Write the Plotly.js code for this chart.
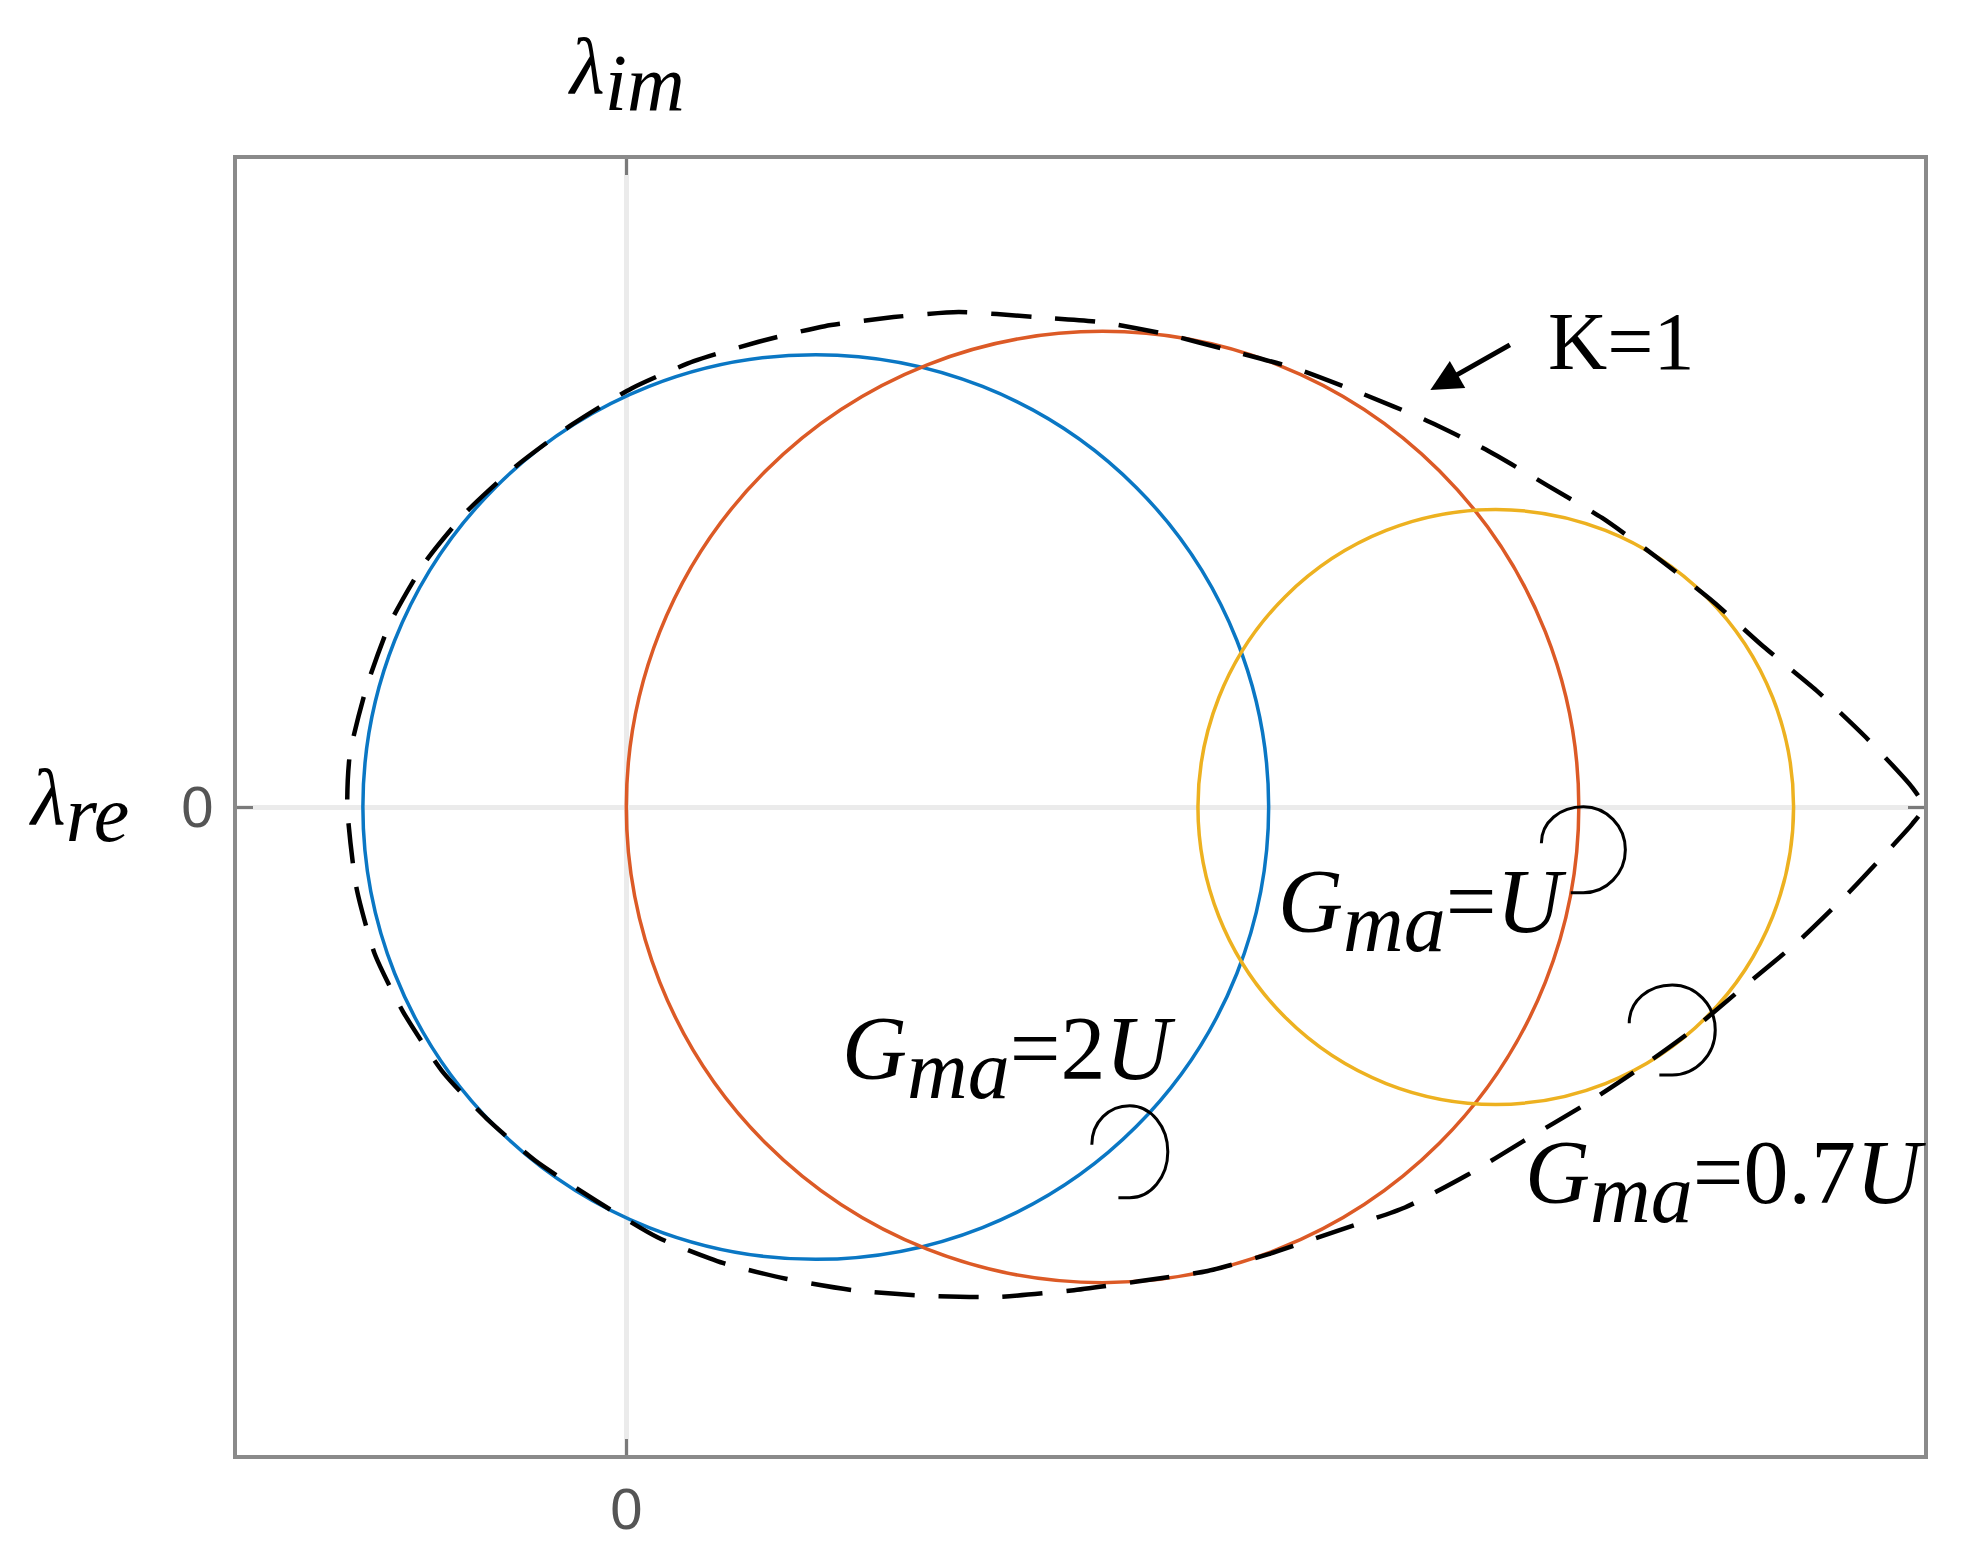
<!DOCTYPE html>
<html>
<head>
<meta charset="utf-8">
<script src="https://cdn.plot.ly/plotly-3.0.1.min.js"></script>
<style>html,body{margin:0;padding:0;background:#fff;}</style>
</head>
<body>
<div id="chart" style="width:1971px;height:1553px;"></div>
<script>
// ---- data ----
// K=1 boundary (dashed), traced from the tip along the upper half to the left, then the lower half back
const boundaryRe = [1.0, 0.991, 0.955, 0.917, 0.876, 0.838, 0.795, 0.752, 0.710, 0.662, 0.615, 0.567, 0.517, 0.466, 0.415, 0.367, 0.315, 0.256, 0.206, 0.153, 0.102, 0.052, 0.004, -0.042, -0.085, -0.123, -0.155, -0.182, -0.200, -0.213, -0.215,
  -0.208, -0.194, -0.172, -0.141, -0.108, -0.070, -0.023, 0.024, 0.075, 0.123, 0.176, 0.228, 0.286, 0.343, 0.395, 0.448, 0.495, 0.548, 0.600, 0.648, 0.691, 0.738, 0.776, 0.819, 0.862, 0.905, 0.943, 0.972, 0.991, 1.0];
const boundaryIm = [0, 0.015, 0.054, 0.090, 0.124, 0.158, 0.192, 0.223, 0.248, 0.276, 0.299, 0.319, 0.338, 0.352, 0.365, 0.374, 0.378, 0.382, 0.378, 0.371, 0.359, 0.344, 0.323, 0.295, 0.263, 0.228, 0.189, 0.142, 0.093, 0.041, 0.0,
  -0.062, -0.113, -0.158, -0.205, -0.240, -0.273, -0.304, -0.332, -0.352, -0.364, -0.373, -0.377, -0.378, -0.373, -0.366, -0.358, -0.345, -0.327, -0.309, -0.284, -0.258, -0.230, -0.205, -0.174, -0.138, -0.102, -0.065, -0.034, -0.013, 0];

// Eigenvalue circles for each G_ma
const circleNames = ['G_ma=2U', 'G_ma=U', 'G_ma=0.7U'];
const circleCenterRe = [0.146, 0.367, 0.670];
const circleCenterIm = [0, 0, 0];
const circleRadius = [0.349, 0.367, 0.2295];
const circleColors = ['#0A77C4', '#DC5A26', '#EDB120'];

// Label texts and their spots
const labelMain = ['2', '', '0.7'];
const labelRe = [0.165, 0.501, 0.691];
const labelIm = [-0.193, -0.080, -0.289];
const loopRe = [0.388, 0.7375, 0.806];
const loopIm = [-0.266, -0.033, -0.172];
const loopRx = [38, 42, 43];
const loopRy = [46, 43, 45];

// Tick labels
const xTickVals = [0];
const xTickText = ['0'];
const yTickVals = [0];
const yTickText = ['0'];

// ---- build ----
const traces = [{
  x: boundaryRe, y: boundaryIm, type: 'scatter', mode: 'lines',
  line: {color: '#000000', width: 4.5, dash: '40px,24px', shape: 'spline', smoothing: 0.6},
  hoverinfo: 'skip', showlegend: false
}];

const shapes = [];
for (let i = 0; i < circleRadius.length; i++) {
  shapes.push({
    type: 'circle', xref: 'x', yref: 'y', layer: 'between',
    x0: circleCenterRe[i] - circleRadius[i], x1: circleCenterRe[i] + circleRadius[i],
    y0: circleCenterIm[i] - circleRadius[i], y1: circleCenterIm[i] + circleRadius[i],
    line: {color: circleColors[i], width: 3.5}
  });
}
for (let i = 0; i < loopRe.length; i++) {
  const rx = loopRx[i], ry = loopRy[i];
  const p = `M ${-rx},${0.15*ry} C ${-rx},${0.65*ry} ${-0.55*rx},${ry} 0,${ry} ` +
            `C ${0.55*rx},${ry} ${rx},${0.55*ry} ${rx},0 ` +
            `C ${rx},${-0.55*ry} ${0.55*rx},${-ry} 0,${-ry} L ${-0.3*rx},${-ry}`;
  shapes.push({
    type: 'path', xref: 'x', yref: 'y', xsizemode: 'pixel', ysizemode: 'pixel',
    xanchor: loopRe[i], yanchor: loopIm[i], path: p, layer: 'above',
    line: {color: '#000000', width: 3}
  });
}

const serif = 'Liberation Serif';
const mathFont = {family: serif, size: 90, color: '#000'};
const annotations = [];
for (let i = 0; i < labelRe.length; i++) {
  annotations.push({
    xref: 'x', yref: 'y', x: labelRe[i], y: labelIm[i], xanchor: 'left', yanchor: 'middle',
    showarrow: false, font: mathFont,
    text: '<i>G</i><sub><span style="font-size:84px"><i>ma</i></span></sub>=' + labelMain[i] + '<i>U</i>'
  });
}
annotations.push({
  xref: 'x', yref: 'y', x: 0.709, y: 0.359, xanchor: 'left', yanchor: 'middle',
  showarrow: false, text: 'K=1', font: {family: serif, size: 82, color: '#000'}
});
annotations.push({
  xref: 'x', yref: 'y', x: 0.6196, y: 0.3218, ax: 81, ay: -46, text: '',
  showarrow: true, arrowhead: 2, arrowsize: 1.25, arrowwidth: 5, arrowcolor: '#000'
});
annotations.push({
  xref: 'x', yref: 'paper', x: 0, y: 1, xanchor: 'center', yanchor: 'middle', yshift: 85,
  showarrow: false, font: {family: serif, size: 80, color: '#000'},
  text: '<i>λ</i><sub><span style="font-size:80px"><i>im</i></span></sub>'
});
annotations.push({
  xref: 'paper', yref: 'y', x: 0, y: 0, xanchor: 'center', yanchor: 'middle', xshift: -158, yshift: 2,
  showarrow: false, font: {family: serif, size: 80, color: '#000'},
  text: '<i>λ</i><sub><span style="font-size:80px"><i>re</i></span></sub>'
});

const axisCommon = {
  showgrid: false, zeroline: true, zerolinecolor: '#ebebeb', zerolinewidth: 5,
  showline: true, mirror: 'ticks', linecolor: '#8a8a8a', linewidth: 4,
  ticks: 'inside', ticklen: 16, tickwidth: 3, tickcolor: '#7a7a7a',
  tickfont: {family: 'Liberation Sans, Arial, sans-serif', size: 58, color: '#555555'},
  fixedrange: true
};

const layout = {
  width: 1971, height: 1553,
  paper_bgcolor: '#ffffff', plot_bgcolor: '#ffffff',
  margin: {l: 237, r: 47, t: 159, b: 98},
  showlegend: false,
  xaxis: Object.assign({}, axisCommon, {range: [-0.3, 1.0], tickvals: xTickVals, ticktext: xTickText, ticklabelstandoff: 0}),
  yaxis: Object.assign({}, axisCommon, {range: [-0.5, 0.5], tickvals: yTickVals, ticktext: yTickText, ticklabelstandoff: 8}),
  shapes: shapes,
  annotations: annotations
};

Plotly.newPlot('chart', traces, layout, {displayModeBar: false, staticPlot: true});
</script>
</body>
</html>
